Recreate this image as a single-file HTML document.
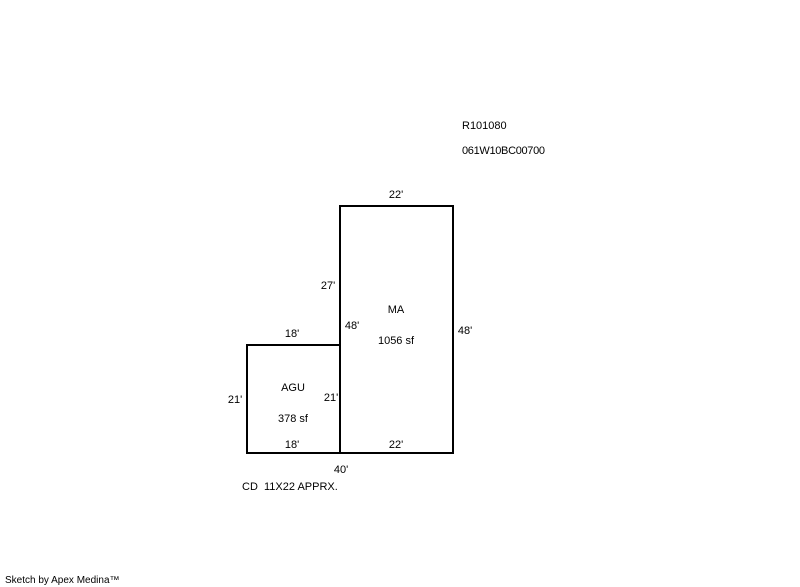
<!DOCTYPE html>
<html><head><style>
body{margin:0;background:#fff;}
svg{display:block;}
text{font-family:"Liberation Sans",Arial,sans-serif;font-size:11px;fill:#000;white-space:pre;}
</style></head><body>
<svg width="800" height="587" viewBox="0 0 800 587">
<g fill="none" stroke="#000" stroke-width="2">
<rect x="340" y="206" width="113" height="247"/>
<polyline points="340,345 247,345 247,453 340,453"/>
</g>
<text x="462" y="129">R101080</text>
<text x="462" y="154" textLength="83">061W10BC00700</text>
<g text-anchor="middle">
<text x="396" y="198">22'</text>
<text x="328" y="289">27'</text>
<text x="352" y="329">48'</text>
<text x="396" y="313">MA</text>
<text x="396" y="344">1056 sf</text>
<text x="465" y="334">48'</text>
<text x="292" y="337">18'</text>
<text x="235" y="403">21'</text>
<text x="293" y="391">AGU</text>
<text x="331" y="401">21'</text>
<text x="293" y="422">378 sf</text>
<text x="292" y="448">18'</text>
<text x="396" y="448">22'</text>
<text x="341" y="473">40'</text>
</g>
<text x="242" y="490">CD  11X22 APPRX.</text>
<text x="5" y="583" style="font-size:10px">Sketch by Apex Medina™</text>
</svg>
</body></html>
